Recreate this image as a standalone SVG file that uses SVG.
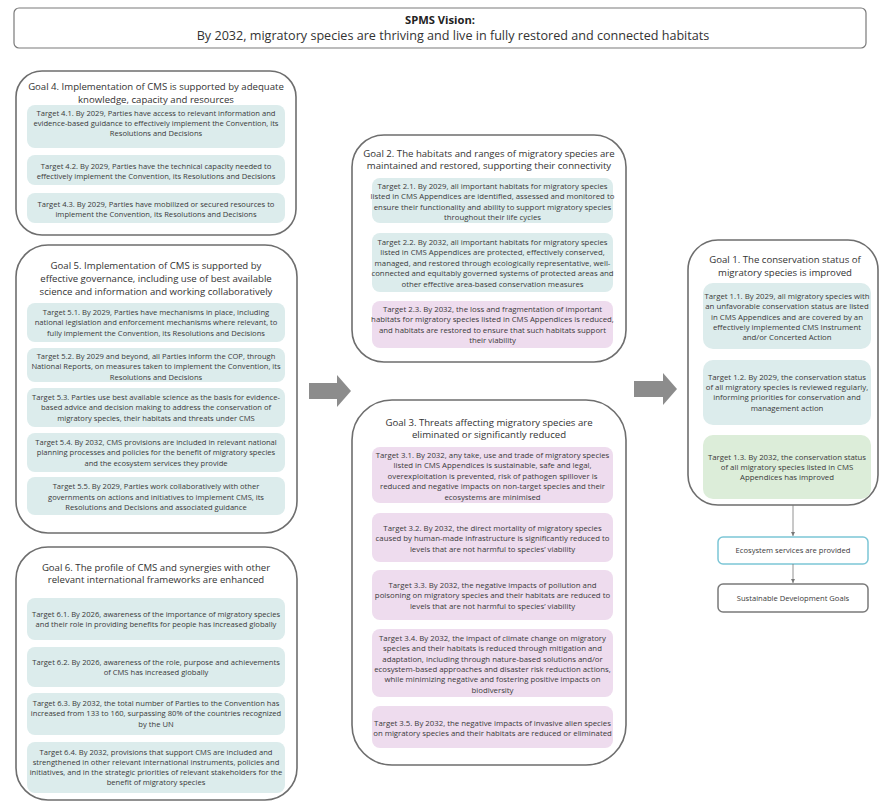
<svg xmlns="http://www.w3.org/2000/svg" width="880" height="801" viewBox="0 0 880 801">
<defs>
<style>
text{font-family:"Open Sans","Noto Sans","DejaVu Sans",sans-serif;text-anchor:middle;fill:#3a3a3a}
.goal{fill:#fff;stroke:#6e6e6e;stroke-width:1.6}
.gt{font-size:9.6px;fill:#333}
.t{font-size:7.6px}
.t2{font-size:7.8px}
.blue{fill:#dcecec}
.pink{fill:#eedcee}
.green{fill:#dcedd9}
.blk{fill:#8c8c8c}
.ln{stroke:#777;stroke-width:0.8;fill:none}
</style>
<marker id="ah" markerWidth="6" markerHeight="6" refX="5" refY="3" orient="auto" markerUnits="userSpaceOnUse">
<path d="M1,1 L5,3 L1,5 Z" fill="#777"/>
</marker>
</defs>
<rect width="880" height="801" fill="#fff"/>

<g id="vision">
<rect x="14" y="8" width="852" height="40" rx="5" fill="#fff" stroke="#7a7a7a" stroke-width="1.2"/>
<text x="440" y="23.5" style="font-size:11.2px;font-weight:bold;fill:#222">SPMS Vision:</text>
<text x="453" y="39.5" style="font-size:12.6px;fill:#333">By 2032, migratory species are thriving and live in fully restored and connected habitats</text>
</g>

<g id="goal4">
<rect class="goal" x="16" y="71" width="280" height="164" rx="26"/>
<text class="gt" x="156" y="90">Goal 4. Implementation of CMS is supported by adequate</text>
<text class="gt" x="156" y="102.5">knowledge, capacity and resources</text>
<g id="t41"><rect class="blue" x="27" y="105" width="258" height="43" rx="8"/>
<text class="t" x="156" y="115.5">Target 4.1. By 2029, Parties have access to relevant information and</text>
<text class="t" x="156" y="125.5">evidence-based guidance to effectively implement the Convention, its</text>
<text class="t" x="156" y="135.5">Resolutions and Decisions</text></g>
<g id="t42"><rect class="blue" x="27" y="155" width="258" height="30" rx="8"/>
<text class="t" x="156" y="168.5">Target 4.2. By 2029, Parties have the technical capacity needed to</text>
<text class="t" x="156" y="179">effectively implement the Convention, its Resolutions and Decisions</text></g>
<g id="t43"><rect class="blue" x="27" y="193" width="258" height="30" rx="8"/>
<text class="t" x="156" y="206.5">Target 4.3. By 2029, Parties have mobilized or secured resources to</text>
<text class="t" x="156" y="217">implement the Convention, its Resolutions and Decisions</text></g>
</g>

<g id="goal5">
<rect class="goal" x="16" y="245" width="281" height="288" rx="32"/>
<text class="gt" x="156" y="268.5">Goal 5. Implementation of CMS is supported by</text>
<text class="gt" x="156" y="281.5">effective governance, including use of best available</text>
<text class="gt" x="156" y="294.5">science and information and working collaboratively</text>
<g id="t51"><rect class="blue" x="27" y="303" width="258" height="39" rx="8"/>
<text class="t" x="156" y="314.5">Target 5.1. By 2029, Parties have mechanisms in place, including</text>
<text class="t" x="156" y="325">national legislation and enforcement mechanisms where relevant,  to</text>
<text class="t" x="156" y="335.5">fully implement the Convention, its Resolutions and Decisions</text></g>
<g id="t52"><rect class="blue" x="27" y="348" width="258" height="34" rx="8"/>
<text class="t" x="156" y="358.5">Target 5.2. By 2029 and beyond, all Parties inform the COP, through</text>
<text class="t" x="156" y="369">National Reports, on measures taken to implement the Convention, its</text>
<text class="t" x="156" y="379.5">Resolutions and Decisions</text></g>
<g id="t53"><rect class="blue" x="27" y="388" width="258" height="39" rx="8"/>
<text class="t" x="156" y="399.5">Target 5.3. Parties use best available science as the basis for evidence-</text>
<text class="t" x="156" y="410">based advice and decision making to address the conservation of</text>
<text class="t" x="156" y="420.5">migratory species, their habitats and threats under CMS</text></g>
<g id="t54"><rect class="blue" x="27" y="433" width="258" height="39" rx="8"/>
<text class="t" x="156" y="444.5">Target 5.4. By 2032, CMS provisions are included in relevant national</text>
<text class="t" x="156" y="455">planning processes and policies for the benefit of migratory species</text>
<text class="t" x="156" y="465.5">and the ecosystem services they provide</text></g>
<g id="t55"><rect class="blue" x="27" y="477" width="258" height="38" rx="8"/>
<text class="t" x="156" y="489">Target 5.5. By 2029, Parties work collaboratively with other</text>
<text class="t" x="156" y="499.5">governments on actions and initiatives to implement CMS, its</text>
<text class="t" x="156" y="510">Resolutions and Decisions and associated guidance</text></g>
</g>

<g id="goal6">
<rect class="goal" x="16" y="547" width="281" height="253" rx="32"/>
<text class="gt" x="156" y="570.5">Goal 6. The profile of CMS and synergies with other</text>
<text class="gt" x="156" y="583">relevant international frameworks are enhanced</text>
<g id="t61"><rect class="blue" x="27" y="598" width="258" height="42" rx="8"/>
<text class="t" x="156" y="616.5">Target 6.1. By 2026, awareness of the importance of migratory species</text>
<text class="t" x="156" y="627">and their role in providing benefits for people has increased globally</text></g>
<g id="t62"><rect class="blue" x="27" y="647" width="258" height="40" rx="8"/>
<text class="t" x="156" y="664.5">Target 6.2. By 2026, awareness of the role, purpose and achievements</text>
<text class="t" x="156" y="675">of CMS has increased globally</text></g>
<g id="t63"><rect class="blue" x="27" y="693" width="258" height="42" rx="8"/>
<text class="t" x="156" y="705.5">Target 6.3. By 2032, the total number of Parties to the Convention has</text>
<text class="t" x="156" y="716">increased from 133 to 160, surpassing 80% of the countries recognized</text>
<text class="t" x="156" y="726.5">by the UN</text></g>
<g id="t64"><rect class="blue" x="27" y="742" width="258" height="51" rx="8"/>
<text class="t" x="156" y="754.5">Target 6.4. By 2032, provisions that support CMS are included and</text>
<text class="t" x="156" y="764.5">strengthened in other relevant international instruments,  policies and</text>
<text class="t" x="156" y="774.5">initiatives, and in the strategic priorities of relevant stakeholders for the</text>
<text class="t" x="156" y="784.5">benefit of migratory species</text></g>
</g>

<g id="goal2">
<rect class="goal" x="352" y="135" width="274" height="227" rx="32"/>
<text class="gt" x="489" y="156.5">Goal 2. The habitats and ranges of migratory species are</text>
<text class="gt" x="489" y="169">maintained and restored, supporting  their connectivity</text>
<g id="t21"><rect class="blue" x="372" y="178" width="241" height="45" rx="8"/>
<text class="t2" x="492.5" y="188.5">Target 2.1. By 2029, all important habitats for migratory species</text>
<text class="t2" x="492.5" y="199">listed in CMS Appendices are identified, assessed and monitored to</text>
<text class="t2" x="492.5" y="209.5">ensure their functionality and ability to support migratory species</text>
<text class="t2" x="492.5" y="220">throughout their life cycles</text></g>
<g id="t22"><rect class="blue" x="372" y="233" width="241" height="59" rx="8"/>
<text class="t2" x="492.5" y="244.5">Target 2.2.  By 2032, all important habitats for migratory species</text>
<text class="t2" x="492.5" y="255">listed in CMS Appendices are protected, effectively conserved,</text>
<text class="t2" x="492.5" y="265.5">managed, and restored through ecologically representative, well-</text>
<text class="t2" x="492.5" y="276">connected and equitably governed systems of protected areas and</text>
<text class="t2" x="492.5" y="286.5">other effective area-based conservation measures</text></g>
<g id="t23"><rect class="pink" x="372" y="301" width="241" height="47" rx="8"/>
<text class="t2" x="492.5" y="311.5">Target 2.3. By 2032, the loss and fragmentation of important</text>
<text class="t2" x="492.5" y="322">habitats for migratory species listed in CMS Appendices is reduced,</text>
<text class="t2" x="492.5" y="332.5">and habitats are restored to ensure that such habitats support</text>
<text class="t2" x="492.5" y="343">their viability</text></g>
</g>

<g id="goal3">
<rect class="goal" x="352" y="400" width="274" height="365" rx="40"/>
<text class="gt" x="489" y="425.5">Goal 3. Threats affecting migratory species are</text>
<text class="gt" x="489" y="437.5">eliminated or significantly reduced</text>
<g id="t31"><rect class="pink" x="372" y="447" width="241" height="56" rx="8"/>
<text class="t2" x="492.5" y="457.5">Target 3.1. By 2032, any take, use and trade of migratory species</text>
<text class="t2" x="492.5" y="468">listed in CMS Appendices is sustainable, safe and legal,</text>
<text class="t2" x="492.5" y="478.5">overexploitation is prevented, risk of pathogen spillover is</text>
<text class="t2" x="492.5" y="489">reduced and negative impacts on non-target species and their</text>
<text class="t2" x="492.5" y="499.5">ecosystems are minimised</text></g>
<g id="t32"><rect class="pink" x="372" y="513" width="241" height="49" rx="8"/>
<text class="t2" x="492.5" y="530.5">Target 3.2. By 2032, the direct mortality of migratory species</text>
<text class="t2" x="492.5" y="541">caused by human-made infrastructure is significantly reduced to</text>
<text class="t2" x="492.5" y="551.5">levels that are not harmful to species’ viability</text></g>
<g id="t33"><rect class="pink" x="372" y="570" width="241" height="50" rx="8"/>
<text class="t2" x="492.5" y="587.5">Target 3.3. By 2032, the negative impacts of pollution and</text>
<text class="t2" x="492.5" y="598">poisoning on migratory species and their habitats are reduced to</text>
<text class="t2" x="492.5" y="608.5">levels that are not harmful to species’ viability</text></g>
<g id="t34"><rect class="pink" x="372" y="629" width="241" height="68" rx="8"/>
<text class="t2" x="492.5" y="640.5">Target 3.4. By 2032, the impact of climate change on migratory</text>
<text class="t2" x="492.5" y="651">species and their habitats is reduced through mitigation and</text>
<text class="t2" x="492.5" y="661.5">adaptation, including through nature-based solutions and/or</text>
<text class="t2" x="492.5" y="671.5">ecosystem-based approaches and disaster risk reduction actions,</text>
<text class="t2" x="492.5" y="682">while minimizing negative and fostering positive impacts on</text>
<text class="t2" x="492.5" y="692.5">biodiversity</text></g>
<g id="t35"><rect class="pink" x="372" y="706" width="241" height="42" rx="8"/>
<text class="t2" x="492.5" y="725.5">Target 3.5. By 2032, the negative impacts of invasive alien species</text>
<text class="t2" x="492.5" y="736">on migratory species and their habitats are reduced or eliminated</text></g>
</g>

<g id="goal1">
<rect class="goal" x="688" y="240" width="190" height="265" rx="30"/>
<text class="gt" x="785" y="263">Goal 1.  The conservation status of</text>
<text class="gt" x="785" y="275.5">migratory species is improved</text>
<g id="t11"><rect class="blue" x="703" y="283" width="168" height="66" rx="10"/>
<text class="t2" x="787" y="298.5">Target 1.1. By 2029, all migratory species with</text>
<text class="t2" x="787" y="309">an unfavorable conservation status are listed</text>
<text class="t2" x="787" y="319.5">in CMS Appendices and are covered by an</text>
<text class="t2" x="787" y="329.5">effectively implemented CMS Instrument</text>
<text class="t2" x="787" y="340">and/or Concerted Action</text></g>
<g id="t12"><rect class="blue" x="703" y="360" width="168" height="65" rx="10"/>
<text class="t2" x="787" y="379.5">Target 1.2. By 2029, the conservation status</text>
<text class="t2" x="787" y="390">of all migratory species is reviewed regularly,</text>
<text class="t2" x="787" y="400">informing priorities for conservation and</text>
<text class="t2" x="787" y="410.5">management action</text></g>
<g id="t13"><rect class="green" x="703" y="435" width="168" height="64" rx="10"/>
<text class="t2" x="787" y="459.5">Target 1.3. By 2032, the conservation status</text>
<text class="t2" x="787" y="470">of all migratory species listed in CMS</text>
<text class="t2" x="787" y="480">Appendices has improved</text></g>
</g>

<g id="ecosystem">
<rect x="718" y="537" width="150" height="27" rx="5" fill="#fff" stroke="#7cc6d6" stroke-width="1.5"/>
<text class="t" x="793" y="553">Ecosystem services are provided</text>
</g>
<g id="sdg">
<rect x="718" y="584" width="150" height="28" rx="5" fill="#fff" stroke="#7a7a7a" stroke-width="1.5"/>
<text class="t" x="793" y="601">Sustainable Development Goals</text>
</g>

<g id="connectors">
<polygon class="blk" points="309,383 337,383 337,375 351,391 337,407 337,399 309,399"/>
<polygon class="blk" points="634,381 663,381 663,373 677,389 663,405 663,397 634,397"/>
<line class="ln" x1="793" y1="505" x2="793" y2="536" marker-end="url(#ah)"/>
<line class="ln" x1="793" y1="564" x2="793" y2="583" marker-end="url(#ah)"/>
</g>
</svg>
